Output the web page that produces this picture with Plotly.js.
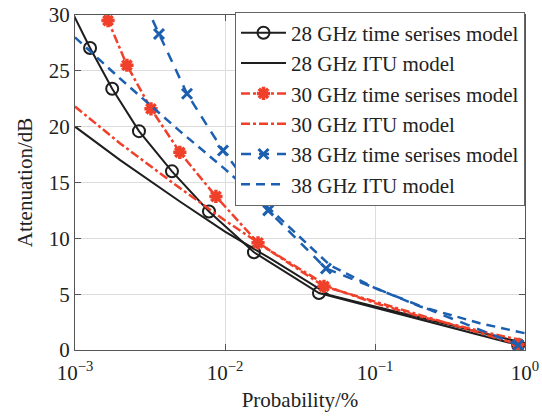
<!DOCTYPE html>
<html>
<head>
<meta charset="utf-8">
<script src="https://cdn.plot.ly/plotly-3.0.1.min.js"></script>
<style>html,body{margin:0;padding:0;background:#fff;}#chart{width:542px;height:416px;}</style>
</head>
<body>
<div id="chart"></div>
<script>
// 28 GHz time series model
const p28ts = [0.0009, 0.00126, 0.00177, 0.00267, 0.00443, 0.00782, 0.0156, 0.0423, 0.9];
const a28ts = [31.0, 27.05, 23.4, 19.6, 16.0, 12.4, 8.75, 5.1, 0.45];
// 28 GHz ITU model
const p28itu = [0.001, 0.002, 0.005, 0.01, 0.02, 0.05, 0.1, 0.2, 0.5, 1.0];
const a28itu = [20.0, 17.0, 13.3, 10.6, 8.2, 4.9, 3.9, 2.9, 1.6, 0.6];
// 30 GHz time series model
const p30ts = [0.00147, 0.00166, 0.00222, 0.00321, 0.005, 0.0087, 0.0166, 0.0457, 0.9];
const a30ts = [31.2, 29.5, 25.5, 21.6, 17.7, 13.75, 9.6, 5.7, 0.5];
// 30 GHz ITU model
const p30itu = [0.001, 0.002, 0.005, 0.01, 0.02, 0.05, 0.1, 0.2, 0.5, 1.0];
const a30itu = [21.8, 18.5, 14.5, 11.6, 8.9, 5.6, 4.2, 3.0, 1.7, 0.8];
// 38 GHz time series model
const p38ts = [0.00293, 0.00363, 0.00558, 0.0097, 0.0194, 0.0471, 0.9];
const a38ts = [31.0, 28.3, 22.95, 17.86, 12.5, 7.3, 0.45];
// 38 GHz ITU model
const p38itu = [0.001, 0.002, 0.005, 0.01, 0.02, 0.05, 0.1, 0.2, 0.5, 1.0];
const a38itu = [28.0, 24.3, 19.6, 16.2, 12.6, 7.6, 5.55, 3.9, 2.4, 1.5];

const names = ['28 GHz time serises model', '28 GHz ITU model', '30 GHz time serises model',
               '30 GHz ITU model', '38 GHz time serises model', '38 GHz ITU model'];
const xTickVals = [0.001, 0.01, 0.1, 1];
const xTickText = ['10<sup>−3</sup>', '10<sup>−2</sup>', '10<sup>−1</sup>', '10<sup>0</sup>'];
const xMinorVals = [];
[0.001, 0.01, 0.1].forEach(function (d) {
  for (let k = 2; k <= 9; k++) xMinorVals.push(d * k);
});

const black = '#1e1e1e', red = '#f0402a', blue = '#1c5fb0';

const traces = [
  {x: p28ts, y: a28ts, name: names[0], mode: 'lines+markers',
   line: {color: black, width: 2},
   marker: {symbol: 'circle-open', size: 12, color: black, line: {width: 2, color: black}}},
  {x: p28itu, y: a28itu, name: names[1], mode: 'lines', line: {color: black, width: 2}},
  {x: p30ts, y: a30ts, name: names[2], mode: 'lines+markers',
   line: {color: red, width: 2.5, dash: 'dashdot'},
   marker: {symbol: 'asterisk-open', size: 11, color: red, line: {width: 3.5, color: red}}},
  {x: p30itu, y: a30itu, name: names[3], mode: 'lines', line: {color: red, width: 2.5, dash: 'dashdot'}},
  {x: p38ts, y: a38ts, name: names[4], mode: 'lines+markers',
   line: {color: blue, width: 2.5, dash: '10px,8px'},
   marker: {symbol: 'x-thin-open', size: 10, color: blue, line: {width: 3, color: blue}}},
  {x: p38itu, y: a38itu, name: names[5], mode: 'lines', line: {color: blue, width: 2.5, dash: '9px,6px'}}
];

const fontFam = 'Times New Roman, Liberation Serif, DejaVu Serif, serif';
const layout = {
  width: 542, height: 416,
  margin: {l: 75, r: 17, t: 15, b: 66},
  paper_bgcolor: '#fff', plot_bgcolor: '#fff',
  font: {family: fontFam, size: 21, color: '#222'},
  showlegend: true,
  legend: {x: 1, xanchor: 'right', y: 1.01, yanchor: 'top', bgcolor: '#fff',
           bordercolor: '#666', borderwidth: 1, font: {family: fontFam, size: 21, color: '#222'},
           itemwidth: 45, tracegroupgap: 0},
  xaxis: {type: 'log', range: [-3, 0], tickvals: xTickVals, ticktext: xTickText,
          showline: true, linecolor: '#555', linewidth: 1, mirror: 'ticks',
          ticks: 'inside', ticklen: 6, tickcolor: '#555', ticklabelstandoff: 4,
          showgrid: true, gridcolor: '#dcdcdc', gridwidth: 1, zeroline: false,
          title: {text: 'Probability/%', font: {family: fontFam, size: 21}, standoff: 8},
          tickfont: {family: fontFam, size: 21}},
  xaxis2: {type: 'log', range: [-3, 0], overlaying: 'x', anchor: 'y', side: 'bottom',
           tickvals: xMinorVals, showticklabels: false,
           ticks: 'inside', ticklen: 4, tickcolor: '#777', mirror: 'ticks',
           showgrid: true, gridcolor: '#b8b8b8', griddash: 'dot', gridwidth: 1,
           showline: false, zeroline: false},
  yaxis: {range: [0, 30], dtick: 5, showline: true, linecolor: '#555', linewidth: 1, mirror: 'ticks',
          ticks: 'inside', ticklen: 6, tickcolor: '#555',
          showgrid: true, gridcolor: '#dcdcdc', gridwidth: 1, zeroline: false,
          title: {text: 'Attenuation/dB', font: {family: fontFam, size: 21}, standoff: 10},
          tickfont: {family: fontFam, size: 21}}
};

Plotly.newPlot('chart', traces, layout, {displayModeBar: false, staticPlot: true});
</script>
</body>
</html>
